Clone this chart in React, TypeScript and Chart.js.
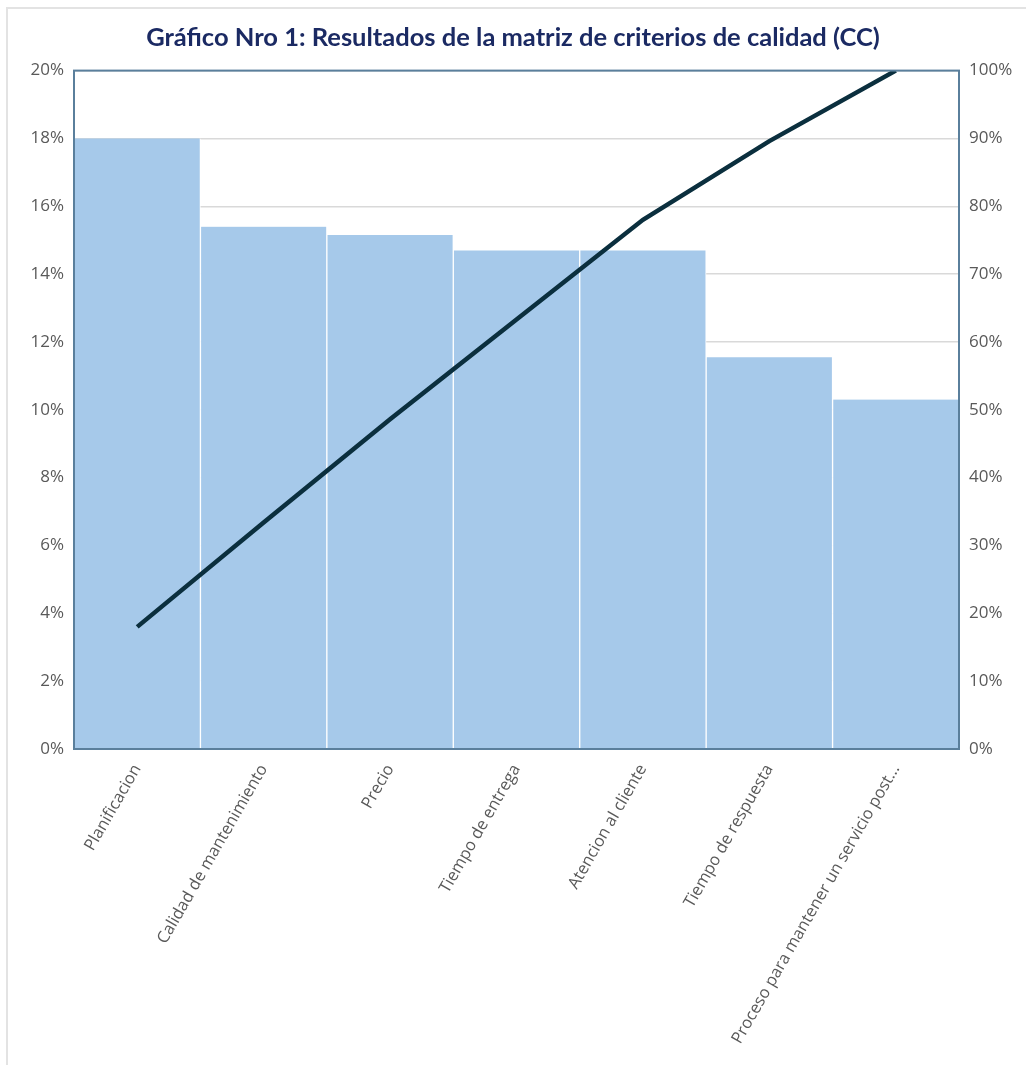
import React, { useEffect, useRef } from "react";
import { Chart, registerables } from "chart.js";

Chart.register(...registerables);

const TITLE = "Gráfico Nro 1: Resultados de la matriz de criterios de calidad (CC)";
const categories = [
  "Planificacion",
  "Calidad de mantenimiento",
  "Precio",
  "Tiempo de entrega",
  "Atencion al cliente",
  "Tiempo de respuesta",
  "Proceso para mantener un servicio post...",
];
const shareValues = [18.0, 15.4, 15.15, 14.7, 14.7, 11.55, 10.3];
const cumulativeValues = [18.0, 33.4, 48.6, 63.3, 78.0, 89.6, 100.0];
const leftTicks = [0, 2, 4, 6, 8, 10, 12, 14, 16, 18, 20];
const rightTicks = [0, 10, 20, 30, 40, 50, 60, 70, 80, 90, 100];

const W = 1026;
const H = 1065;
const PLOT_LEFT = 74;
const PLOT_RIGHT = 959;
const PLOT_BOTTOM = 749;

const frameAndBorder = {
  id: "frameAndBorder",
  beforeDraw(chart: any) {
    const ctx = chart.ctx;
    ctx.save();
    ctx.fillStyle = "#ffffff";
    ctx.fillRect(0, 0, chart.width, chart.height);
    ctx.strokeStyle = "#E3E3E3";
    ctx.lineWidth = 2;
    ctx.beginPath();
    ctx.moveTo(7, H + 5);
    ctx.lineTo(7, 8);
    ctx.lineTo(W + 5, 8);
    ctx.stroke();
    ctx.restore();
  },
  afterDatasetsDraw(chart: any) {
    const { ctx, chartArea } = chart;
    ctx.save();
    ctx.strokeStyle = "#5A7F9C";
    ctx.lineWidth = 2;
    ctx.strokeRect(chartArea.left, chartArea.top, chartArea.right - chartArea.left, chartArea.bottom - chartArea.top);
    ctx.restore();
  },
};

export default function App() {
  const ref = useRef<HTMLCanvasElement | null>(null);
  useEffect(() => {
    document.body.style.margin = "0";
    if (!ref.current) return;
    const chart = new Chart(ref.current, {
      type: "bar",
      data: {
        labels: categories,
        datasets: [
          {
            type: "line",
            label: "Acumulado",
            data: cumulativeValues,
            yAxisID: "y1",
            borderColor: "#0B2F3E",
            borderWidth: 4.5,
            pointRadius: 0,
            tension: 0,
            order: 0,
          } as any,
          {
            type: "bar",
            label: "Porcentaje",
            data: shareValues,
            yAxisID: "y",
            backgroundColor: "#A6C9EA",
            borderColor: "#ffffff",
            borderWidth: { left: 1, right: 1, top: 0, bottom: 0 },
            borderSkipped: false,
            categoryPercentage: 1,
            barPercentage: 1,
            order: 1,
          } as any,
        ],
      },
      options: {
        responsive: false,
        animation: false,
        layout: { padding: { top: 0, left: 0, right: 0, bottom: 0 } },
        plugins: {
          legend: { display: false },
          tooltip: { enabled: false },
          title: {
            display: true,
            text: TITLE,
            color: "#1B2A63",
            font: { family: "Lato", size: 25.5, weight: "bold" },
            padding: { top: 22, bottom: 18 },
          },
        },
        scales: {
          x: {
            grid: { display: false },
            border: { display: false },
            ticks: {
              color: "#595959",
              font: { family: "Open Sans", size: 16.5 },
              minRotation: 60,
              maxRotation: 60,
              autoSkip: false,
              padding: 4,
            },
            afterFit(scale: any) {
              scale.height = H - PLOT_BOTTOM;
            },
          },
          y: {
            position: "left",
            min: 0,
            max: 20,
            afterBuildTicks(scale: any) {
              scale.ticks = leftTicks.map((v) => ({ value: v }));
            },
            ticks: {
              color: "#595959",
              font: { family: "Open Sans", size: 17 },
              padding: 10,
              callback: (v: any) => `${v}%`,
            },
            grid: { color: "#D9D9D9", lineWidth: 1.5, drawTicks: false },
            border: { display: false },
            afterFit(scale: any) {
              scale.width = PLOT_LEFT;
            },
          },
          y1: {
            position: "right",
            min: 0,
            max: 100,
            afterBuildTicks(scale: any) {
              scale.ticks = rightTicks.map((v) => ({ value: v }));
            },
            ticks: {
              color: "#595959",
              font: { family: "Open Sans", size: 17 },
              padding: 10,
              callback: (v: any) => `${v}%`,
            },
            grid: { display: false, drawTicks: false },
            border: { display: false },
            afterFit(scale: any) {
              scale.width = W - PLOT_RIGHT;
            },
          },
        },
      },
      plugins: [frameAndBorder],
    });
    return () => chart.destroy();
  }, []);
  return (
    <div style={{ width: W, height: H }}>
      <canvas ref={ref} width={W} height={H} style={{ display: "block" }} />
    </div>
  );
}
